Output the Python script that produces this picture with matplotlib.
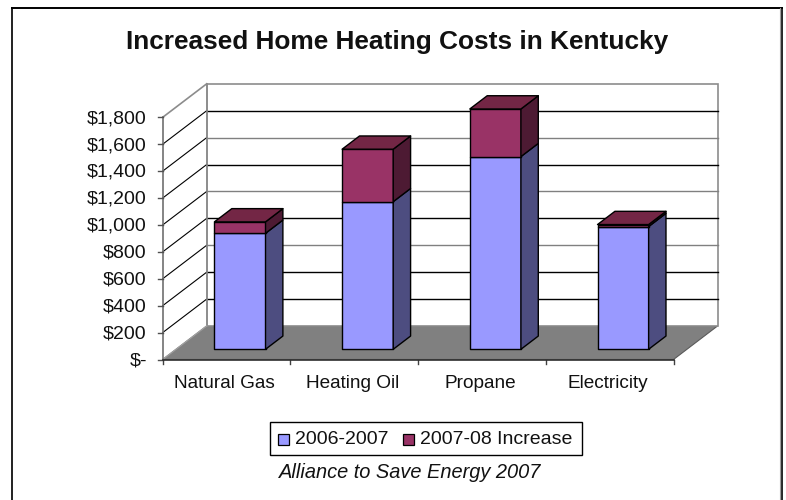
import matplotlib
matplotlib.use("Agg")
import matplotlib.pyplot as plt
from matplotlib.lines import Line2D
from matplotlib.patches import Polygon, Rectangle

plt.rcParams['font.family'] = ['Liberation Sans', 'DejaVu Sans']

categories = ["Natural Gas", "Heating Oil", "Propane", "Electricity"]
base_costs = [862, 1097, 1432, 912]
increase = [85, 390, 354, 15]
y_ticks = [0, 200, 400, 600, 800, 1000, 1200, 1400, 1600, 1800]
y_labels = ["$-", "$200", "$400", "$600", "$800", "$1,000", "$1,200", "$1,400", "$1,600", "$1,800"]
gray_grid = [600, 1000, 1400]
series_names = ["2006-2007", "2007-08 Increase"]

W, H = 786, 500
fig = plt.figure(figsize=(W / 100, H / 100), dpi=100)

# plano frontal del grafico, en pixeles de la imagen
left, right, top, bottom = 162.7, 673.5, 117.3, 359.5
ax = fig.add_axes([left / W, 1 - bottom / H, (right - left) / W, (bottom - top) / H])
ax.set_xlim(0, 4)
ax.set_ylim(0, 1800)
ax.axis('off')

# profundidad: cuanto se desplaza el fondo, en unidades de datos
DX = 44 / ((right - left) / 4)
DY = 33.5 / ((bottom - top) / 1800)


def proj(x, y, d):
    return (x + d * DX, y + d * DY)


def poly(pts, z, **kw):
    ax.add_patch(Polygon(pts, closed=True, clip_on=False, zorder=z, **kw))


GRAY = '#8c8c8c'
# suelo y paredes
poly([proj(0, 0, 0), proj(4, 0, 0), proj(4, 0, 1), proj(0, 0, 1)], 1, fc='#808080', ec='#5a5a5a', lw=0.8)
poly([proj(0, 0, 1), proj(4, 0, 1), proj(4, 1800, 1), proj(0, 1800, 1)], 1, fc='white', ec=GRAY, lw=1.2)

# rejilla en paredes
for v in y_ticks[1:-1]:
    c = '#808080' if v in gray_grid else 'black'
    ax.plot([proj(0, v, 1)[0], proj(4, v, 1)[0]], [proj(0, v, 1)[1]] * 2, color=c, lw=1.0, clip_on=False, zorder=2)
    ax.plot([0, DX], [v, v + DY], color='black', lw=0.8, clip_on=False, zorder=2)
ax.plot([0, DX], [1800, 1800 + DY], color=GRAY, lw=1.2, clip_on=False, zorder=2)
ax.plot([DX, DX], [DY, 1800 + DY], color=GRAY, lw=1.2, clip_on=False, zorder=2)
ax.plot([0, DX], [0, DY], color='#a0a0a0', lw=1, clip_on=False, zorder=2)

# ejes
ax.plot([0, 0], [0, 1800], color='#707070', lw=1.2, clip_on=False, zorder=3)
ax.plot([0, 4], [0, 0], color='#303030', lw=1.2, clip_on=False, zorder=6)
for v, lab in zip(y_ticks, y_labels):
    ax.plot([-0.037, 0], [v, v], color='#505050', lw=1, clip_on=False, zorder=3)
    ax.text(-0.125, v - 10, lab, ha='right', va='center', fontsize=14, color='#111111')
for i in range(5):
    ax.plot([i, i], [0, -37], color='#404040', lw=1, clip_on=False, zorder=3)
for i, cat in enumerate(categories):
    ax.text(i + 0.485, -175, cat, ha='center', va='center', fontsize=13.7, color='#111111')

# barras apiladas
BAR_W = 0.4
D0, D1 = 0.305, 0.70
series = [
    (base_costs, [0] * 4, '#9999ff', '#4d4d80'),
    (increase, base_costs, '#993366', '#4d1a33'),
]
for i in range(len(categories)):
    x0 = i + 0.5 - BAR_W / 2
    x1 = x0 + BAR_W
    for vals, bases, front_c, side_c in series:
        y0 = bases[i]
        y1 = y0 + vals[i]
        z = 10 + i
        poly([proj(x0, y0, D0), proj(x1, y0, D0), proj(x1, y1, D0), proj(x0, y1, D0)], z,
             fc=front_c, ec='black', lw=1.0, joinstyle='round')
        poly([proj(x1, y0, D0), proj(x1, y0, D1), proj(x1, y1, D1), proj(x1, y1, D0)], z,
             fc=side_c, ec='black', lw=1.0, joinstyle='round')
    y_top = base_costs[i] + increase[i]
    poly([proj(x0, y_top, D0), proj(x1, y_top, D0), proj(x1, y_top, D1), proj(x0, y_top, D1)], 10 + i,
         fc='#732645', ec='black', lw=1.0, joinstyle='round')

# textos y marco en coordenadas de figura
fig.text(397 / W, 1 - 41.5 / H, "Increased Home Heating Costs in Kentucky", ha='center', va='center',
         fontsize=18.9, fontweight='bold', color='#111111')
fig.text(410 / W, 1 - 473 / H, "Alliance to Save Energy 2007", ha='center', va='center',
         fontsize=14.4, style='italic', color='#111111')

fig.add_artist(Rectangle((270 / W, 1 - 454.7 / H), 311.5 / W, 32.7 / H, transform=fig.transFigure,
                         fc='white', ec='black', lw=1))
for sx, tx, name, c in [(278, 295, series_names[0], '#9999ff'), (403, 420, series_names[1], '#993366')]:
    fig.add_artist(Rectangle((sx / W, 1 - 445 / H), 11 / W, 11 / H, transform=fig.transFigure,
                             fc=c, ec='black', lw=0.9))
    fig.text(tx / W, 1 - 439.5 / H, name, ha='left', va='center', fontsize=14, color='#111111')

# marco: sin linea inferior, a la derecha gris y negro
for xs, ys, c, lw in [([11.5, 11.5], [500, 7.5], '#202020', 1.4),
                      ([11.5, 781.5], [7.5, 7.5], 'black', 1.4),
                      ([781.8, 781.8], [7.5, 500], 'black', 1.2),
                      ([780.3, 780.3], [8, 500], '#a0a0a0', 0.8)]:
    fig.add_artist(Line2D([x / W for x in xs], [1 - y / H for y in ys], transform=fig.transFigure,
                          color=c, lw=lw))

fig.savefig("out.png", dpi=100)
